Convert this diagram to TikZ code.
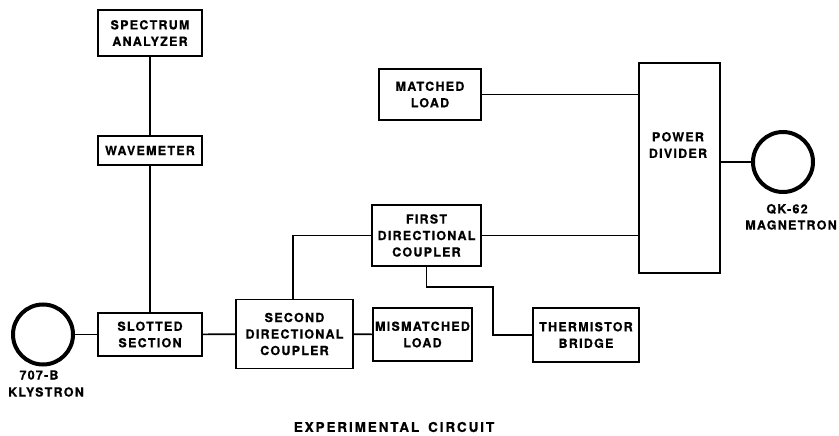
\documentclass[tikz,border=0pt]{standalone}
\usepackage{fontspec}
\newfontfamily\lab[LetterSpace=10,BoldFeatures={FakeBold=0.6}]{TeX Gyre Heros}
\newfontfamily\capfont[LetterSpace=14,BoldFeatures={FakeBold=0.6}]{TeX Gyre Heros}
\begin{document}
\begin{tikzpicture}[x=1pt,y=-1pt,
  lbl/.style={font=\lab\bfseries\fontsize{12.5}{16.5}\selectfont},
  box/.style={draw, line width=1.8pt, inner sep=0pt, align=center, lbl},
  txt/.style={inner sep=0pt, align=center, lbl},
  wire/.style={line width=1.6pt},
  tube/.style={circle, draw, line width=4pt, inner sep=0pt, minimum size=60pt}]
\fill[white] (0,0) rectangle (839,436);
\useasboundingbox (0,0) rectangle (839,436);

% boxes
\node[box, minimum width=104pt, minimum height=46pt] (spec) at (150,33) {SPECTRUM\\ANALYZER};
\node[box, minimum width=104pt, minimum height=29pt] (wave) at (150,150.5) {WAVEMETER};
\node[box, minimum width=104pt, minimum height=43pt] (slot) at (150,334.5) {SLOTTED\\SECTION};
\node[box, minimum width=117pt, minimum height=69pt] (sdc) at (294.5,334) {SECOND\\DIRECTIONAL\\COUPLER};
\node[box, minimum width=99pt, minimum height=53pt] (mis) at (422.5,334.5) {MISMATCHED\\LOAD};
\node[box, minimum width=109pt, minimum height=61pt] (fdc) at (426.5,235.5) {FIRST\\DIRECTIONAL\\COUPLER};
\node[box, minimum width=102pt, minimum height=51pt] (mat) at (430,94.5) {MATCHED\\LOAD};
\node[box, minimum width=106pt, minimum height=54pt] (therm) at (586,335) {THERMISTOR\\BRIDGE};
\node[box, minimum width=81pt, minimum height=210pt] (pd) at (679.5,168) {};
\node[txt] (pdt) at (678,145) {POWER\\DIVIDER};

% tubes
\node[tube] (kly) at (43,334.5) {};
\node[tube] (mag) at (783,162) {};
\node[txt] (klyA) at (39,375) {707-B};
\node[txt] (klyB) at (46,392) {KLYSTRON};
\node[txt] (magA) at (787,209) {QK-62};
\node[txt] (magB) at (791,225) {MAGNETRON};

% caption
\node[inner sep=0pt, font=\capfont\bfseries\fontsize{13.5}{16}\selectfont] (cap) at (394,427) {EXPERIMENTAL\hspace{9pt}CIRCUIT};

% connectors
\coordinate (c1) at (493,287);
\draw[wire] (spec) -- (wave);
\draw[wire] (wave) -- (slot);
\draw[wire] (kly) -- (slot);
\draw[wire] (slot) -- (sdc);
\draw[wire] (sdc) -- (mis);
\draw[wire] ([xshift=-1.5pt]sdc.north) |- (fdc.west);
\draw[wire] (fdc.east) -- (fdc.east -| pd.west);
\draw[wire] (mat.east) -- (mat.east -| pd.west);
\draw[wire] (mag.west) -- (mag.west -| pd.east);
\draw[wire] (fdc.south) |- (c1) |- (therm.west);
\end{tikzpicture}
\end{document}
